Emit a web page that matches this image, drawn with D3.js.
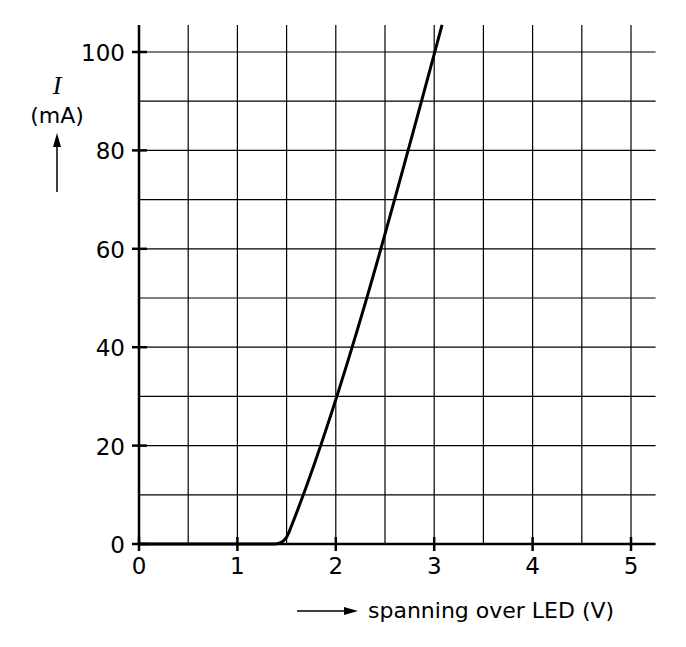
<!DOCTYPE html>
<html><head><meta charset="utf-8">
<script src="https://cdn.jsdelivr.net/npm/d3@7"></script>
<style>body{margin:0;background:#fff}text{font-family:"DejaVu Sans",sans-serif;fill:#000}</style>
</head><body><svg id="c" width="686" height="647"></svg>
<script>
const xTicks=[0,1,2,3,4,5];
const yTicks=[0,20,40,60,80,100];
const xGrid=[0.5,1,1.5,2,2.5,3,3.5,4,4.5,5];
const yGrid=[10,20,30,40,50,60,70,80,90,100];
const curveV=[0,1.38,1.43,1.47,1.5,1.52,1.54,3.08];
const curveI=[0,0,0.2,0.7,1.4,2.2,3.2,105.5];

const svg=d3.select("#c");
const x=d3.scaleLinear().domain([0,5]).range([139,631]);
const y=d3.scaleLinear().domain([0,100]).range([544,52]);
const xMax=5.25,yMax=105.5;
const g=svg.append("g");
g.selectAll(".vg").data(xGrid).join("line").attr("x1",d=>x(d)).attr("x2",d=>x(d)).attr("y1",y(0)).attr("y2",y(yMax)).attr("stroke","#000").attr("stroke-width",1.2);
g.selectAll(".hg").data(yGrid).join("line").attr("y1",d=>y(d)).attr("y2",d=>y(d)).attr("x1",x(0)).attr("x2",x(xMax)).attr("stroke","#000").attr("stroke-width",1.2);
g.append("line").attr("x1",x(0)).attr("x2",x(0)).attr("y1",y(0)+1).attr("y2",y(yMax)).attr("stroke","#000").attr("stroke-width",2.5);
g.append("line").attr("x1",x(0)-1).attr("x2",x(xMax)).attr("y1",y(0)).attr("y2",y(0)).attr("stroke","#000").attr("stroke-width",2.5);
g.selectAll(".xt").data(xTicks).join("line").attr("x1",d=>x(d)).attr("x2",d=>x(d)).attr("y1",y(0)-7).attr("y2",y(0)+7).attr("stroke","#000").attr("stroke-width",2.5);
g.selectAll(".yt").data(yTicks).join("line").attr("y1",d=>y(d)).attr("y2",d=>y(d)).attr("x1",x(0)-7).attr("x2",x(0)+8).attr("stroke","#000").attr("stroke-width",2.5);
g.selectAll(".xl").data(xTicks).join("text").attr("x",d=>x(d)).attr("y",y(0)+30).attr("text-anchor","middle").attr("font-size",23).text(d=>d);
g.selectAll(".yl").data(yTicks).join("text").attr("x",x(0)-14).attr("y",d=>y(d)+9).attr("text-anchor","end").attr("font-size",23).text(d=>d);
const pts=curveV.map((v,i)=>[v,curveI[i]]);
g.append("path").attr("d",d3.line().x(d=>x(d[0])).y(d=>y(d[1])).curve(d3.curveMonotoneX)(pts)).attr("fill","none").attr("stroke","#000").attr("stroke-width",3);
svg.append("text").attr("x",57).attr("y",94).attr("text-anchor","middle").attr("font-size",26).attr("font-style","italic").style("font-family","Liberation Serif,serif").text("I");
svg.append("text").attr("x",57).attr("y",123).attr("text-anchor","middle").attr("font-size",22).text("(mA)");
svg.append("line").attr("x1",57).attr("x2",57).attr("y1",192).attr("y2",140).attr("stroke","#000").attr("stroke-width",1.5);
svg.append("path").attr("d","M57,133 L53,147 L61,147 Z").attr("fill","#000");
svg.append("line").attr("x1",297).attr("x2",350).attr("y1",611).attr("y2",611).attr("stroke","#000").attr("stroke-width",1.5);
svg.append("path").attr("d","M358,611 L344,607 L344,615 Z").attr("fill","#000");
svg.append("text").attr("x",368).attr("y",618).attr("font-size",22).text("spanning over LED (V)");
</script></body></html>
